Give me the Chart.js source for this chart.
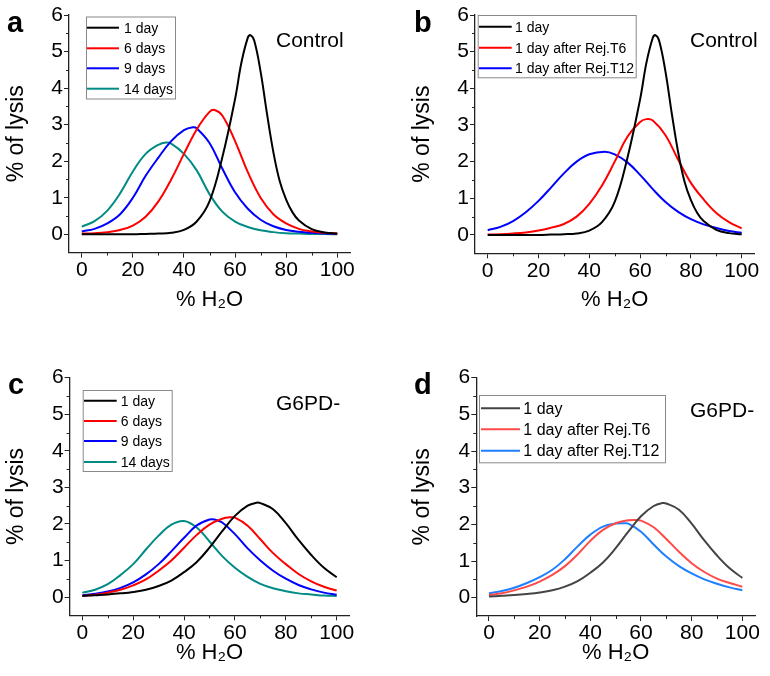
<!DOCTYPE html>
<html>
<head>
<meta charset="utf-8">
<script src="https://cdn.jsdelivr.net/npm/chart.js"></script>
<style>
  body { margin: 0; background: #fff; width: 770px; height: 676px; position: relative; overflow: hidden; }
  canvas { position: absolute; }
</style>
</head>
<body>
<canvas id="pa" width="385" height="313" style="left:0;top:0"></canvas>
<canvas id="pb" width="385" height="313" style="left:385px;top:0"></canvas>
<canvas id="pc" width="385" height="326" style="left:0;top:340px"></canvas>
<canvas id="pd" width="385" height="326" style="left:385px;top:340px"></canvas>
<script>
// axis ticks
const xMajor = [0, 20, 40, 60, 80, 100];
const xMinor = [10, 30, 50, 70, 90];
const yMajor = [0, 1, 2, 3, 4, 5, 6];
const yMinor = [0.5, 1.5, 2.5, 3.5, 4.5, 5.5];

// [% H2O, % of lysis]
const control1Day = [[0,0],[10,0],[20,0],[25,0.01],[30,0.02],[35,0.04],[40,0.12],[45,0.35],[50,0.9],[55,2.1],[60,3.7],[62.5,4.7],[65,5.38],[66,5.45],[67.5,5.3],[70,4.45],[72.5,3.3],[75,2.25],[77.5,1.45],[80,0.95],[82.5,0.6],[85,0.38],[90,0.14],[95,0.05],[100,0.02]];
const control6Days = [[0,0.02],[5,0.03],[10,0.06],[15,0.12],[20,0.24],[25,0.48],[30,0.9],[35,1.5],[40,2.2],[45,2.87],[50,3.35],[52,3.4],[55,3.25],[60,2.55],[65,1.7],[70,1.0],[75,0.55],[80,0.3],[85,0.15],[90,0.08],[95,0.04],[100,0.02]];
const control9Days = [[0,0.08],[5,0.15],[10,0.3],[15,0.55],[20,1.0],[25,1.6],[30,2.1],[35,2.55],[40,2.85],[43.5,2.93],[45,2.9],[50,2.5],[55,1.8],[60,1.15],[65,0.7],[70,0.4],[75,0.22],[80,0.12],[85,0.07],[90,0.04],[95,0.02],[100,0.01]];
const control14Days = [[0,0.21],[5,0.36],[10,0.65],[15,1.12],[20,1.72],[25,2.2],[30,2.45],[33,2.51],[35,2.48],[40,2.2],[45,1.75],[50,1.1],[55,0.62],[60,0.35],[65,0.2],[70,0.11],[75,0.06],[80,0.03],[85,0.02],[90,0.01],[95,0.01],[100,0.0]];
const controlRejT6 = [[0,0.01],[5,0.02],[10,0.04],[15,0.07],[20,0.12],[25,0.2],[30,0.3],[35,0.5],[40,0.85],[45,1.35],[50,2.0],[55,2.68],[60,3.08],[62.5,3.16],[65,3.12],[70,2.72],[75,2.05],[80,1.42],[85,0.97],[90,0.6],[95,0.35],[100,0.18]];
const controlRejT12 = [[0,0.13],[5,0.22],[10,0.38],[15,0.62],[20,0.93],[25,1.3],[30,1.68],[35,2.0],[40,2.2],[46,2.27],[50,2.2],[55,1.98],[60,1.64],[65,1.25],[70,0.9],[75,0.63],[80,0.43],[85,0.29],[90,0.19],[95,0.11],[100,0.06]];

const g6pd1Day = [[0,0.03],[5,0.05],[10,0.07],[15,0.1],[20,0.14],[25,0.2],[30,0.3],[35,0.45],[40,0.68],[45,0.96],[50,1.35],[55,1.8],[60,2.22],[65,2.5],[68.5,2.58],[70,2.57],[75,2.4],[80,2.02],[85,1.56],[90,1.15],[95,0.8],[100,0.54]];
const g6pd6Days = [[0,0.03],[5,0.06],[10,0.12],[15,0.2],[20,0.32],[25,0.48],[30,0.72],[35,1.0],[40,1.35],[45,1.7],[50,1.98],[55,2.14],[58,2.18],[60,2.17],[65,1.95],[70,1.58],[75,1.2],[80,0.9],[85,0.63],[90,0.43],[95,0.28],[100,0.18]];
const g6pd9Days = [[0,0.05],[5,0.09],[10,0.15],[15,0.25],[20,0.4],[25,0.62],[30,0.9],[35,1.25],[40,1.62],[45,1.96],[50,2.12],[52,2.12],[55,2.04],[60,1.72],[65,1.33],[70,1.0],[75,0.72],[80,0.5],[85,0.33],[90,0.21],[95,0.12],[100,0.06]];
const g6pd14Days = [[0,0.12],[5,0.2],[10,0.35],[15,0.6],[20,0.9],[25,1.3],[30,1.68],[35,1.98],[40,2.08],[45,1.9],[50,1.52],[55,1.12],[60,0.8],[65,0.55],[70,0.36],[75,0.24],[80,0.16],[85,0.1],[90,0.07],[95,0.04],[100,0.03]];
const g6pdRejT6 = [[0,0.07],[5,0.12],[10,0.2],[15,0.3],[20,0.44],[25,0.62],[30,0.86],[35,1.18],[40,1.55],[45,1.85],[50,2.03],[55,2.11],[58,2.12],[60,2.1],[65,1.92],[70,1.6],[75,1.25],[80,0.94],[85,0.7],[90,0.52],[95,0.4],[100,0.3]];
const g6pdRejT12 = [[0,0.12],[5,0.18],[10,0.27],[15,0.4],[20,0.56],[25,0.76],[30,1.05],[35,1.4],[40,1.72],[45,1.94],[50,2.02],[53.5,2.03],[55,2.02],[60,1.8],[65,1.45],[70,1.12],[75,0.86],[80,0.66],[85,0.5],[90,0.38],[95,0.28],[100,0.2]];

const FONT = '"Liberation Sans", Arial, sans-serif';

// letters, tag text, framed legend and minor ticks
const decor = {
  id: 'decor',
  afterDraw(chart, args, o) {
    const ctx = chart.ctx;
    const xs = chart.scales.x, ys = chart.scales.y;
    ctx.save();
    ctx.strokeStyle = '#222';
    ctx.lineWidth = 1;
    ctx.beginPath();
    xMinor.forEach(v => {
      const px = Math.round(xs.getPixelForValue(v)) + 0.5;
      ctx.moveTo(px, xs.top); ctx.lineTo(px, xs.top + 3);
    });
    yMinor.forEach(v => {
      const py = Math.round(ys.getPixelForValue(v)) + 0.5;
      ctx.moveTo(ys.right, py); ctx.lineTo(ys.right - 3, py);
    });
    ctx.stroke();

    ctx.fillStyle = '#000';
    ctx.textBaseline = 'alphabetic';
    ctx.font = 'bold 29px ' + FONT;
    ctx.fillText(o.letter, o.letterX, o.letterY);
    ctx.font = '21px ' + FONT;
    ctx.fillText(o.tag, o.tagX, o.tagY);

    const b = o.box;
    ctx.strokeStyle = '#8a8a8a';
    ctx.strokeRect(b.x + 0.5, b.y + 0.5, b.w, b.h);
    ctx.font = o.legendSize + 'px ' + FONT;
    ctx.textBaseline = 'middle';
    chart.data.datasets.forEach((ds, i) => {
      const y = o.rows[i];
      ctx.strokeStyle = ds.borderColor;
      ctx.lineWidth = 2;
      ctx.beginPath();
      ctx.moveTo(o.lineX0, y); ctx.lineTo(o.lineX1, y);
      ctx.stroke();
      ctx.fillStyle = '#000';
      ctx.fillText(ds.label, o.textX, y + 1);
    });
    ctx.restore();
  }
};

function makeChart(id, names, series, colors, lay, deco) {
  new Chart(document.getElementById(id), {
    type: 'line',
    data: {
      datasets: series.map((s, i) => ({
        label: names[i],
        data: s.map(p => ({ x: p[0], y: p[1] })),
        borderColor: colors[i],
        borderWidth: 2,
        pointRadius: 0,
        fill: false,
        tension: 0.4
      }))
    },
    options: {
      responsive: false,
      animation: false,
      layout: { padding: { left: 0, top: lay.top, right: lay.right, bottom: 0 } },
      plugins: { legend: { display: false }, tooltip: { enabled: false }, decor: deco },
      scales: {
        x: {
          type: 'linear', min: -5, max: 105,
          afterBuildTicks: s => { s.ticks = xMajor.map(v => ({ value: v })); },
          afterFit: s => { s.height = lay.axisH; },
          ticks: { color: '#000', font: { family: FONT, size: 21 }, padding: 0, maxRotation: 0 },
          grid: { drawOnChartArea: false, drawTicks: true, tickLength: 5, color: '#222' },
          border: { color: '#222', width: 1.3 },
          title: { display: true, text: '% H\u2082O', color: '#000', font: { family: FONT, size: 22 }, padding: { top: 0, bottom: 0 } }
        },
        y: {
          type: 'linear', min: -0.5, max: 6,
          afterBuildTicks: s => { s.ticks = yMajor.map(v => ({ value: v })); },
          afterFit: s => { s.width = lay.axisW; },
          ticks: { color: '#000', font: { family: FONT, size: 21 }, padding: 1 },
          grid: { drawOnChartArea: false, drawTicks: true, tickLength: 5, color: '#222' },
          border: { color: '#222', width: 1.3 },
          title: { display: true, text: '% of lysis', color: '#000', font: { family: FONT, size: 23 }, padding: { top: lay.titleL, bottom: 0 } }
        }
      }
    },
    plugins: [decor]
  });
}

const daysNames = ['1 day', '6 days', '9 days', '14 days'];
const rejNames = ['1 day', '1 day after Rej.T6', '1 day after Rej.T12'];

makeChart('pa', daysNames, [control1Day, control6Days, control9Days, control14Days],
  ['#000000', '#ff0000', '#0000ff', '#008b84'],
  { top: 15, right: 35, axisW: 69, axisH: 60.4, titleL: 3 },
  { letter: 'a', letterX: 7, letterY: 32, tag: 'Control', tagX: 276, tagY: 47,
    box: { x: 86, y: 16.5, w: 89, h: 82 }, lineX0: 87, lineX1: 119, textX: 124,
    rows: [27.7, 48.3, 68.3, 88.7], legendSize: 14 });

makeChart('pb', rejNames, [control1Day, controlRejT6, controlRejT12],
  ['#000000', '#ff0000', '#0000ff'],
  { top: 15, right: 15.6, axisW: 90, axisH: 59.7, titleL: 24 },
  { letter: 'b', letterX: 29, letterY: 32, tag: 'Control', tagX: 305, tagY: 47,
    box: { x: 92.7, y: 15, w: 158, h: 62.3 }, lineX0: 94, lineX1: 126.7, textX: 130,
    rows: [26.7, 47.7, 68.3], legendSize: 14 });

makeChart('pc', daysNames, [g6pd1Day, g6pd6Days, g6pd9Days, g6pd14Days],
  ['#000000', '#ff0000', '#0000ff', '#008b84'],
  { top: 37.7, right: 35.6, axisW: 69.6, axisH: 50.7, titleL: 3 },
  { letter: 'c', letterX: 8, letterY: 53.5, tag: 'G6PD-', tagX: 276, tagY: 70,
    box: { x: 82.7, y: 50, w: 89, h: 81 }, lineX0: 84, lineX1: 116.7, textX: 120.7,
    rows: [60.7, 81, 101, 122], legendSize: 14 });

makeChart('pd', rejNames, [g6pd1Day, g6pdRejT6, g6pdRejT12],
  ['#444444', '#ff4a4a', '#1f7fff'],
  { top: 37.7, right: 15, axisW: 91.3, axisH: 50, titleL: 24 },
  { letter: 'd', letterX: 29, letterY: 54, tag: 'G6PD-', tagX: 305, tagY: 76.7,
    box: { x: 94, y: 55, w: 186, h: 67.3 }, lineX0: 96, lineX1: 135, textX: 138.3,
    rows: [68.3, 89.3, 110.7], legendSize: 16 });
</script>
</body>
</html>
